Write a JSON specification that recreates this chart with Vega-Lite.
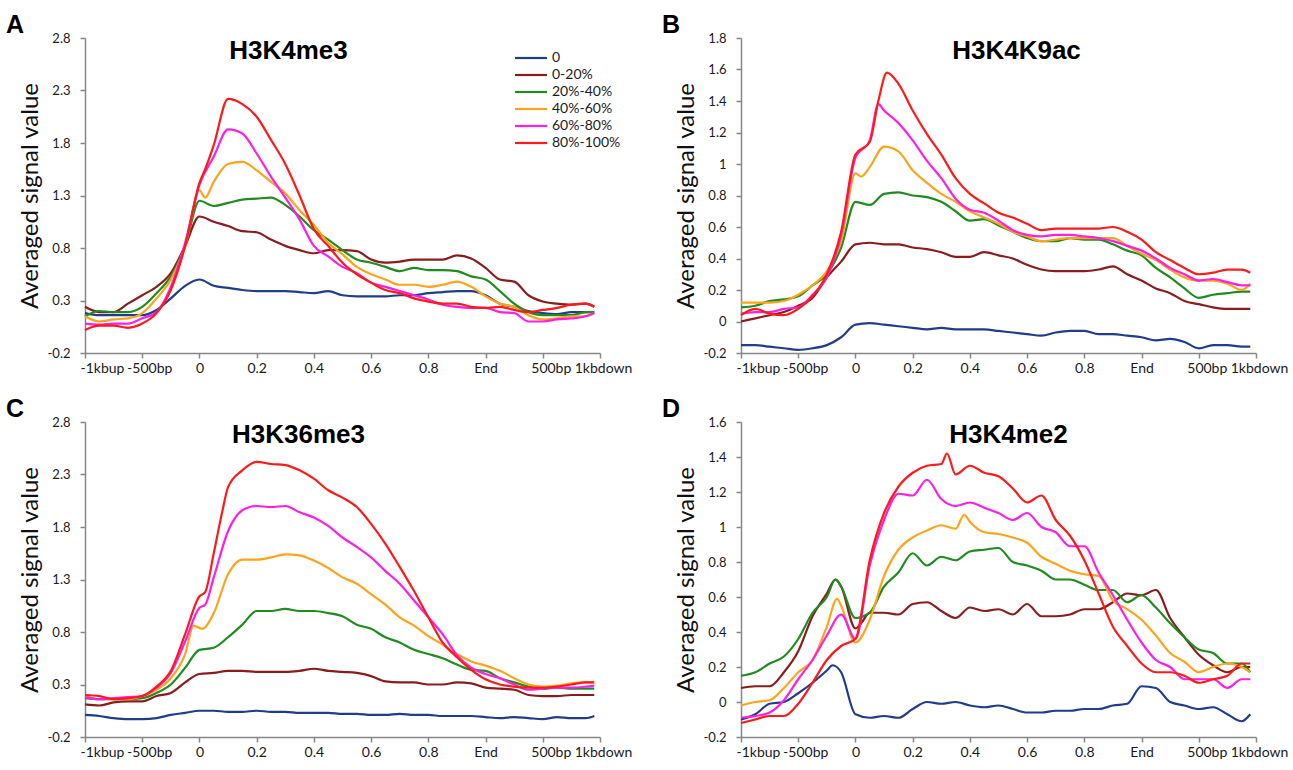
{
"$schema": "https://vega.github.io/schema/vega-lite/v6.json",
"background": "white",
"padding": {"left": 6, "top": 13, "right": 5, "bottom": 5},
"config": {
  "font": "Lato",
  "view": {"stroke": null},
  "title": {"font": "Liberation Sans", "fontWeight": "bold", "color": "#000000", "fontSize": 26},
  "axis": {"grid": false, "domainColor": "#878787", "domainWidth": 1.5, "tickColor": "#878787", "tickWidth": 1.5, "tickSize": 5, "labelFont": "Lato", "labelColor": "#1a1a1a", "titleFont": "Lato", "titleFontWeight": "normal", "titleColor": "#111111", "titleFontSize": 24},
  "axisX": {"labelFontSize": 14, "labelPadding": 3, "labelFlush": false, "labelOverlap": false},
  "axisY": {"labelFontSize": 13, "labelPadding": 10, "titlePadding": 5},
  "line": {"strokeWidth": 2.2, "interpolate": "monotone"}
},
"datasets": {
"A": [
{"s":"0","x":0,"y":0.18},{"s":"0","x":0.25,"y":0.16},{"s":"0","x":0.5,"y":0.16},{"s":"0","x":0.75,"y":0.16},{"s":"0","x":1,"y":0.16},{"s":"0","x":1.25,"y":0.21},{"s":"0","x":1.5,"y":0.32},{"s":"0","x":1.75,"y":0.44},{"s":"0","x":2,"y":0.5},{"s":"0","x":2.25,"y":0.44},{"s":"0","x":2.5,"y":0.42},{"s":"0","x":2.75,"y":0.4},{"s":"0","x":3,"y":0.39},{"s":"0","x":3.25,"y":0.39},{"s":"0","x":3.5,"y":0.39},{"s":"0","x":3.75,"y":0.38},{"s":"0","x":4,"y":0.37},{"s":"0","x":4.25,"y":0.39},{"s":"0","x":4.5,"y":0.35},{"s":"0","x":4.75,"y":0.34},{"s":"0","x":5,"y":0.34},{"s":"0","x":5.25,"y":0.34},{"s":"0","x":5.5,"y":0.35},{"s":"0","x":5.75,"y":0.35},{"s":"0","x":6,"y":0.37},{"s":"0","x":6.25,"y":0.38},{"s":"0","x":6.5,"y":0.39},{"s":"0","x":6.75,"y":0.39},{"s":"0","x":7,"y":0.35},{"s":"0","x":7.25,"y":0.27},{"s":"0","x":7.5,"y":0.24},{"s":"0","x":7.75,"y":0.2},{"s":"0","x":8,"y":0.18},{"s":"0","x":8.25,"y":0.17},{"s":"0","x":8.5,"y":0.19},{"s":"0","x":8.75,"y":0.19},{"s":"0","x":8.9,"y":0.19},
{"s":"0-20%","x":0,"y":0.24},{"s":"0-20%","x":0.25,"y":0.19},{"s":"0-20%","x":0.5,"y":0.19},{"s":"0-20%","x":0.75,"y":0.27},{"s":"0-20%","x":1,"y":0.35},{"s":"0-20%","x":1.25,"y":0.43},{"s":"0-20%","x":1.5,"y":0.56},{"s":"0-20%","x":1.75,"y":0.82},{"s":"0-20%","x":2,"y":1.1},{"s":"0-20%","x":2.25,"y":1.05},{"s":"0-20%","x":2.5,"y":1.01},{"s":"0-20%","x":2.75,"y":0.96},{"s":"0-20%","x":3,"y":0.95},{"s":"0-20%","x":3.25,"y":0.88},{"s":"0-20%","x":3.5,"y":0.82},{"s":"0-20%","x":3.75,"y":0.78},{"s":"0-20%","x":4,"y":0.75},{"s":"0-20%","x":4.25,"y":0.78},{"s":"0-20%","x":4.5,"y":0.78},{"s":"0-20%","x":4.75,"y":0.77},{"s":"0-20%","x":5,"y":0.69},{"s":"0-20%","x":5.25,"y":0.66},{"s":"0-20%","x":5.5,"y":0.67},{"s":"0-20%","x":5.75,"y":0.69},{"s":"0-20%","x":6,"y":0.69},{"s":"0-20%","x":6.25,"y":0.69},{"s":"0-20%","x":6.5,"y":0.73},{"s":"0-20%","x":6.75,"y":0.7},{"s":"0-20%","x":7,"y":0.61},{"s":"0-20%","x":7.25,"y":0.5},{"s":"0-20%","x":7.5,"y":0.48},{"s":"0-20%","x":7.75,"y":0.35},{"s":"0-20%","x":8,"y":0.29},{"s":"0-20%","x":8.25,"y":0.27},{"s":"0-20%","x":8.5,"y":0.26},{"s":"0-20%","x":8.75,"y":0.27},{"s":"0-20%","x":8.9,"y":0.24},
{"s":"20%-40%","x":0,"y":0.15},{"s":"20%-40%","x":0.25,"y":0.2},{"s":"20%-40%","x":0.5,"y":0.19},{"s":"20%-40%","x":0.75,"y":0.19},{"s":"20%-40%","x":1,"y":0.24},{"s":"20%-40%","x":1.25,"y":0.37},{"s":"20%-40%","x":1.5,"y":0.53},{"s":"20%-40%","x":1.75,"y":0.82},{"s":"20%-40%","x":2,"y":1.25},{"s":"20%-40%","x":2.25,"y":1.2},{"s":"20%-40%","x":2.5,"y":1.23},{"s":"20%-40%","x":2.75,"y":1.26},{"s":"20%-40%","x":3,"y":1.27},{"s":"20%-40%","x":3.25,"y":1.28},{"s":"20%-40%","x":3.5,"y":1.21},{"s":"20%-40%","x":3.75,"y":1.1},{"s":"20%-40%","x":4,"y":0.97},{"s":"20%-40%","x":4.25,"y":0.88},{"s":"20%-40%","x":4.5,"y":0.78},{"s":"20%-40%","x":4.75,"y":0.69},{"s":"20%-40%","x":5,"y":0.66},{"s":"20%-40%","x":5.25,"y":0.62},{"s":"20%-40%","x":5.5,"y":0.58},{"s":"20%-40%","x":5.75,"y":0.61},{"s":"20%-40%","x":6,"y":0.59},{"s":"20%-40%","x":6.25,"y":0.59},{"s":"20%-40%","x":6.5,"y":0.58},{"s":"20%-40%","x":6.75,"y":0.53},{"s":"20%-40%","x":7,"y":0.5},{"s":"20%-40%","x":7.25,"y":0.39},{"s":"20%-40%","x":7.5,"y":0.27},{"s":"20%-40%","x":7.75,"y":0.19},{"s":"20%-40%","x":8,"y":0.16},{"s":"20%-40%","x":8.25,"y":0.16},{"s":"20%-40%","x":8.5,"y":0.16},{"s":"20%-40%","x":8.75,"y":0.19},{"s":"20%-40%","x":8.9,"y":0.19},
{"s":"40%-60%","x":0,"y":0.15},{"s":"40%-60%","x":0.25,"y":0.1},{"s":"40%-60%","x":0.5,"y":0.12},{"s":"40%-60%","x":0.75,"y":0.13},{"s":"40%-60%","x":1,"y":0.18},{"s":"40%-60%","x":1.25,"y":0.32},{"s":"40%-60%","x":1.5,"y":0.5},{"s":"40%-60%","x":1.75,"y":0.82},{"s":"40%-60%","x":2,"y":1.35},{"s":"40%-60%","x":2.1,"y":1.28},{"s":"40%-60%","x":2.25,"y":1.43},{"s":"40%-60%","x":2.5,"y":1.6},{"s":"40%-60%","x":2.75,"y":1.62},{"s":"40%-60%","x":3,"y":1.54},{"s":"40%-60%","x":3.25,"y":1.43},{"s":"40%-60%","x":3.5,"y":1.32},{"s":"40%-60%","x":3.75,"y":1.16},{"s":"40%-60%","x":4,"y":1.02},{"s":"40%-60%","x":4.25,"y":0.85},{"s":"40%-60%","x":4.5,"y":0.74},{"s":"40%-60%","x":4.75,"y":0.62},{"s":"40%-60%","x":5,"y":0.55},{"s":"40%-60%","x":5.25,"y":0.5},{"s":"40%-60%","x":5.5,"y":0.45},{"s":"40%-60%","x":5.75,"y":0.45},{"s":"40%-60%","x":6,"y":0.43},{"s":"40%-60%","x":6.25,"y":0.45},{"s":"40%-60%","x":6.5,"y":0.48},{"s":"40%-60%","x":6.75,"y":0.43},{"s":"40%-60%","x":7,"y":0.34},{"s":"40%-60%","x":7.25,"y":0.27},{"s":"40%-60%","x":7.5,"y":0.24},{"s":"40%-60%","x":7.75,"y":0.16},{"s":"40%-60%","x":8,"y":0.12},{"s":"40%-60%","x":8.25,"y":0.13},{"s":"40%-60%","x":8.5,"y":0.15},{"s":"40%-60%","x":8.75,"y":0.15},{"s":"40%-60%","x":8.9,"y":0.18},
{"s":"60%-80%","x":0,"y":0.08},{"s":"60%-80%","x":0.25,"y":0.07},{"s":"60%-80%","x":0.5,"y":0.08},{"s":"60%-80%","x":0.75,"y":0.08},{"s":"60%-80%","x":1,"y":0.13},{"s":"60%-80%","x":1.25,"y":0.19},{"s":"60%-80%","x":1.5,"y":0.43},{"s":"60%-80%","x":1.75,"y":0.85},{"s":"60%-80%","x":2,"y":1.4},{"s":"60%-80%","x":2.25,"y":1.67},{"s":"60%-80%","x":2.5,"y":1.93},{"s":"60%-80%","x":2.75,"y":1.89},{"s":"60%-80%","x":3,"y":1.7},{"s":"60%-80%","x":3.25,"y":1.48},{"s":"60%-80%","x":3.5,"y":1.28},{"s":"60%-80%","x":3.75,"y":1.07},{"s":"60%-80%","x":4,"y":0.82},{"s":"60%-80%","x":4.25,"y":0.72},{"s":"60%-80%","x":4.5,"y":0.62},{"s":"60%-80%","x":4.75,"y":0.56},{"s":"60%-80%","x":5,"y":0.47},{"s":"60%-80%","x":5.25,"y":0.43},{"s":"60%-80%","x":5.5,"y":0.39},{"s":"60%-80%","x":5.75,"y":0.35},{"s":"60%-80%","x":6,"y":0.31},{"s":"60%-80%","x":6.25,"y":0.26},{"s":"60%-80%","x":6.5,"y":0.24},{"s":"60%-80%","x":6.75,"y":0.23},{"s":"60%-80%","x":7,"y":0.23},{"s":"60%-80%","x":7.25,"y":0.19},{"s":"60%-80%","x":7.5,"y":0.18},{"s":"60%-80%","x":7.75,"y":0.1},{"s":"60%-80%","x":8,"y":0.1},{"s":"60%-80%","x":8.25,"y":0.12},{"s":"60%-80%","x":8.5,"y":0.13},{"s":"60%-80%","x":8.75,"y":0.15},{"s":"60%-80%","x":8.9,"y":0.18},
{"s":"80%-100%","x":0,"y":0.02},{"s":"80%-100%","x":0.25,"y":0.06},{"s":"80%-100%","x":0.5,"y":0.06},{"s":"80%-100%","x":0.75,"y":0.04},{"s":"80%-100%","x":1,"y":0.08},{"s":"80%-100%","x":1.25,"y":0.18},{"s":"80%-100%","x":1.5,"y":0.4},{"s":"80%-100%","x":1.75,"y":0.82},{"s":"80%-100%","x":2,"y":1.42},{"s":"80%-100%","x":2.1,"y":1.55},{"s":"80%-100%","x":2.25,"y":1.78},{"s":"80%-100%","x":2.5,"y":2.22},{"s":"80%-100%","x":2.75,"y":2.17},{"s":"80%-100%","x":3,"y":2.05},{"s":"80%-100%","x":3.25,"y":1.83},{"s":"80%-100%","x":3.5,"y":1.6},{"s":"80%-100%","x":3.75,"y":1.3},{"s":"80%-100%","x":4,"y":0.98},{"s":"80%-100%","x":4.25,"y":0.82},{"s":"80%-100%","x":4.5,"y":0.66},{"s":"80%-100%","x":4.75,"y":0.55},{"s":"80%-100%","x":5,"y":0.47},{"s":"80%-100%","x":5.25,"y":0.4},{"s":"80%-100%","x":5.5,"y":0.37},{"s":"80%-100%","x":5.75,"y":0.32},{"s":"80%-100%","x":6,"y":0.29},{"s":"80%-100%","x":6.25,"y":0.27},{"s":"80%-100%","x":6.5,"y":0.27},{"s":"80%-100%","x":6.75,"y":0.24},{"s":"80%-100%","x":7,"y":0.23},{"s":"80%-100%","x":7.25,"y":0.24},{"s":"80%-100%","x":7.5,"y":0.21},{"s":"80%-100%","x":7.75,"y":0.19},{"s":"80%-100%","x":8,"y":0.21},{"s":"80%-100%","x":8.25,"y":0.23},{"s":"80%-100%","x":8.5,"y":0.26},{"s":"80%-100%","x":8.75,"y":0.27},{"s":"80%-100%","x":8.9,"y":0.24}
],
"B": [
{"s":"0","x":0,"y":-0.15},{"s":"0","x":0.25,"y":-0.15},{"s":"0","x":0.5,"y":-0.16},{"s":"0","x":0.75,"y":-0.17},{"s":"0","x":1,"y":-0.18},{"s":"0","x":1.25,"y":-0.17},{"s":"0","x":1.5,"y":-0.15},{"s":"0","x":1.75,"y":-0.1},{"s":"0","x":2,"y":-0.02},{"s":"0","x":2.25,"y":-0.01},{"s":"0","x":2.5,"y":-0.02},{"s":"0","x":2.75,"y":-0.03},{"s":"0","x":3,"y":-0.04},{"s":"0","x":3.25,"y":-0.05},{"s":"0","x":3.5,"y":-0.04},{"s":"0","x":3.75,"y":-0.05},{"s":"0","x":4,"y":-0.05},{"s":"0","x":4.25,"y":-0.05},{"s":"0","x":4.5,"y":-0.06},{"s":"0","x":4.75,"y":-0.07},{"s":"0","x":5,"y":-0.08},{"s":"0","x":5.25,"y":-0.09},{"s":"0","x":5.5,"y":-0.07},{"s":"0","x":5.75,"y":-0.06},{"s":"0","x":6,"y":-0.06},{"s":"0","x":6.25,"y":-0.08},{"s":"0","x":6.5,"y":-0.08},{"s":"0","x":6.75,"y":-0.09},{"s":"0","x":7,"y":-0.1},{"s":"0","x":7.25,"y":-0.12},{"s":"0","x":7.5,"y":-0.11},{"s":"0","x":7.75,"y":-0.13},{"s":"0","x":8,"y":-0.17},{"s":"0","x":8.25,"y":-0.15},{"s":"0","x":8.5,"y":-0.15},{"s":"0","x":8.75,"y":-0.16},{"s":"0","x":8.9,"y":-0.16},
{"s":"0-20%","x":0,"y":0},{"s":"0-20%","x":0.25,"y":0.02},{"s":"0-20%","x":0.5,"y":0.04},{"s":"0-20%","x":0.75,"y":0.06},{"s":"0-20%","x":1,"y":0.1},{"s":"0-20%","x":1.25,"y":0.15},{"s":"0-20%","x":1.5,"y":0.28},{"s":"0-20%","x":1.75,"y":0.38},{"s":"0-20%","x":2,"y":0.49},{"s":"0-20%","x":2.25,"y":0.5},{"s":"0-20%","x":2.5,"y":0.49},{"s":"0-20%","x":2.75,"y":0.49},{"s":"0-20%","x":3,"y":0.47},{"s":"0-20%","x":3.25,"y":0.46},{"s":"0-20%","x":3.5,"y":0.44},{"s":"0-20%","x":3.75,"y":0.41},{"s":"0-20%","x":4,"y":0.41},{"s":"0-20%","x":4.25,"y":0.44},{"s":"0-20%","x":4.5,"y":0.42},{"s":"0-20%","x":4.75,"y":0.4},{"s":"0-20%","x":5,"y":0.36},{"s":"0-20%","x":5.25,"y":0.33},{"s":"0-20%","x":5.5,"y":0.32},{"s":"0-20%","x":5.75,"y":0.32},{"s":"0-20%","x":6,"y":0.32},{"s":"0-20%","x":6.25,"y":0.33},{"s":"0-20%","x":6.5,"y":0.35},{"s":"0-20%","x":6.75,"y":0.3},{"s":"0-20%","x":7,"y":0.26},{"s":"0-20%","x":7.25,"y":0.21},{"s":"0-20%","x":7.5,"y":0.18},{"s":"0-20%","x":7.75,"y":0.13},{"s":"0-20%","x":8,"y":0.11},{"s":"0-20%","x":8.25,"y":0.09},{"s":"0-20%","x":8.5,"y":0.08},{"s":"0-20%","x":8.75,"y":0.08},{"s":"0-20%","x":8.9,"y":0.08},
{"s":"20%-40%","x":0,"y":0.09},{"s":"20%-40%","x":0.25,"y":0.1},{"s":"20%-40%","x":0.5,"y":0.13},{"s":"20%-40%","x":0.75,"y":0.14},{"s":"20%-40%","x":1,"y":0.16},{"s":"20%-40%","x":1.25,"y":0.23},{"s":"20%-40%","x":1.5,"y":0.3},{"s":"20%-40%","x":1.75,"y":0.47},{"s":"20%-40%","x":2,"y":0.76},{"s":"20%-40%","x":2.25,"y":0.74},{"s":"20%-40%","x":2.5,"y":0.81},{"s":"20%-40%","x":2.75,"y":0.82},{"s":"20%-40%","x":3,"y":0.8},{"s":"20%-40%","x":3.25,"y":0.79},{"s":"20%-40%","x":3.5,"y":0.76},{"s":"20%-40%","x":3.75,"y":0.7},{"s":"20%-40%","x":4,"y":0.64},{"s":"20%-40%","x":4.25,"y":0.65},{"s":"20%-40%","x":4.5,"y":0.61},{"s":"20%-40%","x":4.75,"y":0.57},{"s":"20%-40%","x":5,"y":0.53},{"s":"20%-40%","x":5.25,"y":0.51},{"s":"20%-40%","x":5.5,"y":0.51},{"s":"20%-40%","x":5.75,"y":0.53},{"s":"20%-40%","x":6,"y":0.52},{"s":"20%-40%","x":6.25,"y":0.52},{"s":"20%-40%","x":6.5,"y":0.49},{"s":"20%-40%","x":6.75,"y":0.45},{"s":"20%-40%","x":7,"y":0.42},{"s":"20%-40%","x":7.25,"y":0.34},{"s":"20%-40%","x":7.5,"y":0.28},{"s":"20%-40%","x":7.75,"y":0.21},{"s":"20%-40%","x":8,"y":0.15},{"s":"20%-40%","x":8.25,"y":0.17},{"s":"20%-40%","x":8.5,"y":0.18},{"s":"20%-40%","x":8.75,"y":0.19},{"s":"20%-40%","x":8.9,"y":0.19},
{"s":"40%-60%","x":0,"y":0.12},{"s":"40%-60%","x":0.25,"y":0.12},{"s":"40%-60%","x":0.5,"y":0.12},{"s":"40%-60%","x":0.75,"y":0.13},{"s":"40%-60%","x":1,"y":0.17},{"s":"40%-60%","x":1.25,"y":0.23},{"s":"40%-60%","x":1.5,"y":0.32},{"s":"40%-60%","x":1.75,"y":0.51},{"s":"40%-60%","x":2,"y":0.94},{"s":"40%-60%","x":2.1,"y":0.92},{"s":"40%-60%","x":2.25,"y":0.98},{"s":"40%-60%","x":2.5,"y":1.11},{"s":"40%-60%","x":2.75,"y":1.08},{"s":"40%-60%","x":3,"y":0.96},{"s":"40%-60%","x":3.25,"y":0.88},{"s":"40%-60%","x":3.5,"y":0.81},{"s":"40%-60%","x":3.75,"y":0.76},{"s":"40%-60%","x":4,"y":0.7},{"s":"40%-60%","x":4.25,"y":0.66},{"s":"40%-60%","x":4.5,"y":0.62},{"s":"40%-60%","x":4.75,"y":0.57},{"s":"40%-60%","x":5,"y":0.54},{"s":"40%-60%","x":5.25,"y":0.51},{"s":"40%-60%","x":5.5,"y":0.52},{"s":"40%-60%","x":5.75,"y":0.53},{"s":"40%-60%","x":6,"y":0.53},{"s":"40%-60%","x":6.25,"y":0.53},{"s":"40%-60%","x":6.5,"y":0.53},{"s":"40%-60%","x":6.75,"y":0.48},{"s":"40%-60%","x":7,"y":0.43},{"s":"40%-60%","x":7.25,"y":0.39},{"s":"40%-60%","x":7.5,"y":0.33},{"s":"40%-60%","x":7.75,"y":0.28},{"s":"40%-60%","x":8,"y":0.26},{"s":"40%-60%","x":8.25,"y":0.26},{"s":"40%-60%","x":8.5,"y":0.24},{"s":"40%-60%","x":8.75,"y":0.2},{"s":"40%-60%","x":8.9,"y":0.24},
{"s":"60%-80%","x":0,"y":0.05},{"s":"60%-80%","x":0.25,"y":0.06},{"s":"60%-80%","x":0.5,"y":0.06},{"s":"60%-80%","x":0.75,"y":0.08},{"s":"60%-80%","x":1,"y":0.09},{"s":"60%-80%","x":1.25,"y":0.17},{"s":"60%-80%","x":1.5,"y":0.28},{"s":"60%-80%","x":1.75,"y":0.55},{"s":"60%-80%","x":2,"y":1.04},{"s":"60%-80%","x":2.25,"y":1.15},{"s":"60%-80%","x":2.4,"y":1.38},{"s":"60%-80%","x":2.5,"y":1.34},{"s":"60%-80%","x":2.75,"y":1.26},{"s":"60%-80%","x":3,"y":1.15},{"s":"60%-80%","x":3.25,"y":1.02},{"s":"60%-80%","x":3.5,"y":0.91},{"s":"60%-80%","x":3.75,"y":0.78},{"s":"60%-80%","x":4,"y":0.71},{"s":"60%-80%","x":4.25,"y":0.69},{"s":"60%-80%","x":4.5,"y":0.64},{"s":"60%-80%","x":4.75,"y":0.58},{"s":"60%-80%","x":5,"y":0.55},{"s":"60%-80%","x":5.25,"y":0.54},{"s":"60%-80%","x":5.5,"y":0.55},{"s":"60%-80%","x":5.75,"y":0.55},{"s":"60%-80%","x":6,"y":0.54},{"s":"60%-80%","x":6.25,"y":0.53},{"s":"60%-80%","x":6.5,"y":0.51},{"s":"60%-80%","x":6.75,"y":0.48},{"s":"60%-80%","x":7,"y":0.45},{"s":"60%-80%","x":7.25,"y":0.4},{"s":"60%-80%","x":7.5,"y":0.34},{"s":"60%-80%","x":7.75,"y":0.3},{"s":"60%-80%","x":8,"y":0.26},{"s":"60%-80%","x":8.25,"y":0.27},{"s":"60%-80%","x":8.5,"y":0.25},{"s":"60%-80%","x":8.75,"y":0.23},{"s":"60%-80%","x":8.9,"y":0.23},
{"s":"80%-100%","x":0,"y":0.04},{"s":"80%-100%","x":0.25,"y":0.08},{"s":"80%-100%","x":0.5,"y":0.05},{"s":"80%-100%","x":0.75,"y":0.04},{"s":"80%-100%","x":1,"y":0.08},{"s":"80%-100%","x":1.25,"y":0.16},{"s":"80%-100%","x":1.5,"y":0.3},{"s":"80%-100%","x":1.75,"y":0.57},{"s":"80%-100%","x":2,"y":1.06},{"s":"80%-100%","x":2.25,"y":1.14},{"s":"80%-100%","x":2.4,"y":1.4},{"s":"80%-100%","x":2.55,"y":1.58},{"s":"80%-100%","x":2.75,"y":1.51},{"s":"80%-100%","x":3,"y":1.34},{"s":"80%-100%","x":3.25,"y":1.19},{"s":"80%-100%","x":3.5,"y":1.06},{"s":"80%-100%","x":3.75,"y":0.91},{"s":"80%-100%","x":4,"y":0.81},{"s":"80%-100%","x":4.25,"y":0.75},{"s":"80%-100%","x":4.5,"y":0.69},{"s":"80%-100%","x":4.75,"y":0.66},{"s":"80%-100%","x":5,"y":0.62},{"s":"80%-100%","x":5.25,"y":0.58},{"s":"80%-100%","x":5.5,"y":0.59},{"s":"80%-100%","x":5.75,"y":0.59},{"s":"80%-100%","x":6,"y":0.59},{"s":"80%-100%","x":6.25,"y":0.59},{"s":"80%-100%","x":6.5,"y":0.6},{"s":"80%-100%","x":6.75,"y":0.57},{"s":"80%-100%","x":7,"y":0.52},{"s":"80%-100%","x":7.25,"y":0.44},{"s":"80%-100%","x":7.5,"y":0.39},{"s":"80%-100%","x":7.75,"y":0.34},{"s":"80%-100%","x":8,"y":0.3},{"s":"80%-100%","x":8.25,"y":0.31},{"s":"80%-100%","x":8.5,"y":0.33},{"s":"80%-100%","x":8.75,"y":0.33},{"s":"80%-100%","x":8.9,"y":0.31}
],
"C": [
{"s":"0","x":0,"y":0.01},{"s":"0","x":0.25,"y":0},{"s":"0","x":0.5,"y":-0.02},{"s":"0","x":0.75,"y":-0.03},{"s":"0","x":1,"y":-0.03},{"s":"0","x":1.25,"y":-0.02},{"s":"0","x":1.5,"y":0.01},{"s":"0","x":1.75,"y":0.03},{"s":"0","x":2,"y":0.05},{"s":"0","x":2.25,"y":0.05},{"s":"0","x":2.5,"y":0.04},{"s":"0","x":2.75,"y":0.04},{"s":"0","x":3,"y":0.05},{"s":"0","x":3.25,"y":0.04},{"s":"0","x":3.5,"y":0.04},{"s":"0","x":3.75,"y":0.03},{"s":"0","x":4,"y":0.03},{"s":"0","x":4.25,"y":0.03},{"s":"0","x":4.5,"y":0.02},{"s":"0","x":4.75,"y":0.02},{"s":"0","x":5,"y":0.01},{"s":"0","x":5.25,"y":0.01},{"s":"0","x":5.5,"y":0.02},{"s":"0","x":5.75,"y":0.01},{"s":"0","x":6,"y":0.01},{"s":"0","x":6.25,"y":0},{"s":"0","x":6.5,"y":0},{"s":"0","x":6.75,"y":0},{"s":"0","x":7,"y":-0.01},{"s":"0","x":7.25,"y":-0.02},{"s":"0","x":7.5,"y":-0.01},{"s":"0","x":7.75,"y":-0.02},{"s":"0","x":8,"y":-0.03},{"s":"0","x":8.25,"y":-0.01},{"s":"0","x":8.5,"y":-0.02},{"s":"0","x":8.75,"y":-0.02},{"s":"0","x":8.9,"y":0},
{"s":"0-20%","x":0,"y":0.11},{"s":"0-20%","x":0.25,"y":0.1},{"s":"0-20%","x":0.5,"y":0.13},{"s":"0-20%","x":0.75,"y":0.14},{"s":"0-20%","x":1,"y":0.14},{"s":"0-20%","x":1.25,"y":0.19},{"s":"0-20%","x":1.5,"y":0.22},{"s":"0-20%","x":1.75,"y":0.32},{"s":"0-20%","x":2,"y":0.4},{"s":"0-20%","x":2.25,"y":0.41},{"s":"0-20%","x":2.5,"y":0.43},{"s":"0-20%","x":2.75,"y":0.43},{"s":"0-20%","x":3,"y":0.42},{"s":"0-20%","x":3.25,"y":0.42},{"s":"0-20%","x":3.5,"y":0.42},{"s":"0-20%","x":3.75,"y":0.43},{"s":"0-20%","x":4,"y":0.45},{"s":"0-20%","x":4.25,"y":0.43},{"s":"0-20%","x":4.5,"y":0.42},{"s":"0-20%","x":4.75,"y":0.41},{"s":"0-20%","x":5,"y":0.38},{"s":"0-20%","x":5.25,"y":0.33},{"s":"0-20%","x":5.5,"y":0.32},{"s":"0-20%","x":5.75,"y":0.32},{"s":"0-20%","x":6,"y":0.3},{"s":"0-20%","x":6.25,"y":0.3},{"s":"0-20%","x":6.5,"y":0.32},{"s":"0-20%","x":6.75,"y":0.31},{"s":"0-20%","x":7,"y":0.27},{"s":"0-20%","x":7.25,"y":0.26},{"s":"0-20%","x":7.5,"y":0.25},{"s":"0-20%","x":7.75,"y":0.2},{"s":"0-20%","x":8,"y":0.19},{"s":"0-20%","x":8.25,"y":0.19},{"s":"0-20%","x":8.5,"y":0.2},{"s":"0-20%","x":8.75,"y":0.2},{"s":"0-20%","x":8.9,"y":0.2},
{"s":"20%-40%","x":0,"y":0.17},{"s":"20%-40%","x":0.25,"y":0.16},{"s":"20%-40%","x":0.5,"y":0.16},{"s":"20%-40%","x":0.75,"y":0.16},{"s":"20%-40%","x":1,"y":0.17},{"s":"20%-40%","x":1.25,"y":0.22},{"s":"20%-40%","x":1.5,"y":0.3},{"s":"20%-40%","x":1.75,"y":0.46},{"s":"20%-40%","x":2,"y":0.63},{"s":"20%-40%","x":2.25,"y":0.65},{"s":"20%-40%","x":2.5,"y":0.75},{"s":"20%-40%","x":2.75,"y":0.87},{"s":"20%-40%","x":3,"y":1},{"s":"20%-40%","x":3.25,"y":1},{"s":"20%-40%","x":3.5,"y":1.02},{"s":"20%-40%","x":3.75,"y":1},{"s":"20%-40%","x":4,"y":1},{"s":"20%-40%","x":4.25,"y":0.98},{"s":"20%-40%","x":4.5,"y":0.95},{"s":"20%-40%","x":4.75,"y":0.87},{"s":"20%-40%","x":5,"y":0.83},{"s":"20%-40%","x":5.25,"y":0.75},{"s":"20%-40%","x":5.5,"y":0.7},{"s":"20%-40%","x":5.75,"y":0.63},{"s":"20%-40%","x":6,"y":0.59},{"s":"20%-40%","x":6.25,"y":0.55},{"s":"20%-40%","x":6.5,"y":0.49},{"s":"20%-40%","x":6.75,"y":0.44},{"s":"20%-40%","x":7,"y":0.43},{"s":"20%-40%","x":7.25,"y":0.36},{"s":"20%-40%","x":7.5,"y":0.32},{"s":"20%-40%","x":7.75,"y":0.28},{"s":"20%-40%","x":8,"y":0.26},{"s":"20%-40%","x":8.25,"y":0.27},{"s":"20%-40%","x":8.5,"y":0.26},{"s":"20%-40%","x":8.75,"y":0.26},{"s":"20%-40%","x":8.9,"y":0.26},
{"s":"40%-60%","x":0,"y":0.19},{"s":"40%-60%","x":0.25,"y":0.16},{"s":"40%-60%","x":0.5,"y":0.16},{"s":"40%-60%","x":0.75,"y":0.16},{"s":"40%-60%","x":1,"y":0.19},{"s":"40%-60%","x":1.25,"y":0.25},{"s":"40%-60%","x":1.5,"y":0.36},{"s":"40%-60%","x":1.75,"y":0.59},{"s":"40%-60%","x":1.9,"y":0.86},{"s":"40%-60%","x":2.05,"y":0.83},{"s":"40%-60%","x":2.25,"y":0.98},{"s":"40%-60%","x":2.5,"y":1.35},{"s":"40%-60%","x":2.75,"y":1.49},{"s":"40%-60%","x":3,"y":1.49},{"s":"40%-60%","x":3.25,"y":1.51},{"s":"40%-60%","x":3.5,"y":1.54},{"s":"40%-60%","x":3.75,"y":1.53},{"s":"40%-60%","x":4,"y":1.48},{"s":"40%-60%","x":4.25,"y":1.41},{"s":"40%-60%","x":4.5,"y":1.32},{"s":"40%-60%","x":4.75,"y":1.26},{"s":"40%-60%","x":5,"y":1.16},{"s":"40%-60%","x":5.25,"y":1.06},{"s":"40%-60%","x":5.5,"y":0.94},{"s":"40%-60%","x":5.75,"y":0.86},{"s":"40%-60%","x":6,"y":0.76},{"s":"40%-60%","x":6.25,"y":0.68},{"s":"40%-60%","x":6.5,"y":0.59},{"s":"40%-60%","x":6.75,"y":0.52},{"s":"40%-60%","x":7,"y":0.48},{"s":"40%-60%","x":7.25,"y":0.43},{"s":"40%-60%","x":7.5,"y":0.36},{"s":"40%-60%","x":7.75,"y":0.3},{"s":"40%-60%","x":8,"y":0.28},{"s":"40%-60%","x":8.25,"y":0.29},{"s":"40%-60%","x":8.5,"y":0.31},{"s":"40%-60%","x":8.75,"y":0.32},{"s":"40%-60%","x":8.9,"y":0.32},
{"s":"60%-80%","x":0,"y":0.18},{"s":"60%-80%","x":0.25,"y":0.16},{"s":"60%-80%","x":0.5,"y":0.17},{"s":"60%-80%","x":0.75,"y":0.18},{"s":"60%-80%","x":1,"y":0.19},{"s":"60%-80%","x":1.25,"y":0.27},{"s":"60%-80%","x":1.5,"y":0.41},{"s":"60%-80%","x":1.75,"y":0.71},{"s":"60%-80%","x":2,"y":1.03},{"s":"60%-80%","x":2.1,"y":1.06},{"s":"60%-80%","x":2.25,"y":1.32},{"s":"60%-80%","x":2.5,"y":1.76},{"s":"60%-80%","x":2.75,"y":1.96},{"s":"60%-80%","x":3,"y":2},{"s":"60%-80%","x":3.25,"y":1.99},{"s":"60%-80%","x":3.5,"y":2},{"s":"60%-80%","x":3.75,"y":1.94},{"s":"60%-80%","x":4,"y":1.89},{"s":"60%-80%","x":4.25,"y":1.81},{"s":"60%-80%","x":4.5,"y":1.7},{"s":"60%-80%","x":4.75,"y":1.61},{"s":"60%-80%","x":5,"y":1.51},{"s":"60%-80%","x":5.25,"y":1.38},{"s":"60%-80%","x":5.5,"y":1.26},{"s":"60%-80%","x":5.75,"y":1.1},{"s":"60%-80%","x":6,"y":0.94},{"s":"60%-80%","x":6.25,"y":0.78},{"s":"60%-80%","x":6.5,"y":0.58},{"s":"60%-80%","x":6.75,"y":0.46},{"s":"60%-80%","x":7,"y":0.4},{"s":"60%-80%","x":7.25,"y":0.36},{"s":"60%-80%","x":7.5,"y":0.3},{"s":"60%-80%","x":7.75,"y":0.25},{"s":"60%-80%","x":8,"y":0.26},{"s":"60%-80%","x":8.25,"y":0.27},{"s":"60%-80%","x":8.5,"y":0.27},{"s":"60%-80%","x":8.75,"y":0.28},{"s":"60%-80%","x":8.9,"y":0.29},
{"s":"80%-100%","x":0,"y":0.2},{"s":"80%-100%","x":0.25,"y":0.19},{"s":"80%-100%","x":0.5,"y":0.16},{"s":"80%-100%","x":0.75,"y":0.17},{"s":"80%-100%","x":1,"y":0.19},{"s":"80%-100%","x":1.25,"y":0.28},{"s":"80%-100%","x":1.5,"y":0.43},{"s":"80%-100%","x":1.75,"y":0.78},{"s":"80%-100%","x":2,"y":1.14},{"s":"80%-100%","x":2.1,"y":1.18},{"s":"80%-100%","x":2.25,"y":1.55},{"s":"80%-100%","x":2.4,"y":1.95},{"s":"80%-100%","x":2.5,"y":2.18},{"s":"80%-100%","x":2.75,"y":2.34},{"s":"80%-100%","x":3,"y":2.42},{"s":"80%-100%","x":3.25,"y":2.4},{"s":"80%-100%","x":3.5,"y":2.39},{"s":"80%-100%","x":3.75,"y":2.34},{"s":"80%-100%","x":4,"y":2.26},{"s":"80%-100%","x":4.25,"y":2.15},{"s":"80%-100%","x":4.5,"y":2.08},{"s":"80%-100%","x":4.75,"y":1.99},{"s":"80%-100%","x":5,"y":1.83},{"s":"80%-100%","x":5.25,"y":1.64},{"s":"80%-100%","x":5.5,"y":1.42},{"s":"80%-100%","x":5.75,"y":1.19},{"s":"80%-100%","x":6,"y":0.94},{"s":"80%-100%","x":6.25,"y":0.7},{"s":"80%-100%","x":6.5,"y":0.56},{"s":"80%-100%","x":6.75,"y":0.44},{"s":"80%-100%","x":7,"y":0.35},{"s":"80%-100%","x":7.25,"y":0.3},{"s":"80%-100%","x":7.5,"y":0.28},{"s":"80%-100%","x":7.75,"y":0.27},{"s":"80%-100%","x":8,"y":0.27},{"s":"80%-100%","x":8.25,"y":0.28},{"s":"80%-100%","x":8.5,"y":0.3},{"s":"80%-100%","x":8.75,"y":0.32},{"s":"80%-100%","x":8.9,"y":0.32}
],
"D": [
{"s":"0","x":0,"y":-0.1},{"s":"0","x":0.25,"y":-0.07},{"s":"0","x":0.5,"y":-0.01},{"s":"0","x":0.75,"y":0},{"s":"0","x":1,"y":0.05},{"s":"0","x":1.25,"y":0.11},{"s":"0","x":1.5,"y":0.18},{"s":"0","x":1.6,"y":0.21},{"s":"0","x":1.75,"y":0.17},{"s":"0","x":2,"y":-0.07},{"s":"0","x":2.25,"y":-0.09},{"s":"0","x":2.5,"y":-0.08},{"s":"0","x":2.75,"y":-0.09},{"s":"0","x":3,"y":-0.04},{"s":"0","x":3.25,"y":0},{"s":"0","x":3.5,"y":-0.01},{"s":"0","x":3.75,"y":0},{"s":"0","x":4,"y":-0.02},{"s":"0","x":4.25,"y":-0.03},{"s":"0","x":4.5,"y":-0.02},{"s":"0","x":4.75,"y":-0.04},{"s":"0","x":5,"y":-0.06},{"s":"0","x":5.25,"y":-0.06},{"s":"0","x":5.5,"y":-0.05},{"s":"0","x":5.75,"y":-0.05},{"s":"0","x":6,"y":-0.04},{"s":"0","x":6.25,"y":-0.04},{"s":"0","x":6.5,"y":-0.02},{"s":"0","x":6.75,"y":-0.01},{"s":"0","x":7,"y":0.09},{"s":"0","x":7.25,"y":0.08},{"s":"0","x":7.5,"y":0},{"s":"0","x":7.75,"y":-0.02},{"s":"0","x":8,"y":-0.04},{"s":"0","x":8.25,"y":-0.03},{"s":"0","x":8.5,"y":-0.07},{"s":"0","x":8.75,"y":-0.11},{"s":"0","x":8.9,"y":-0.07},
{"s":"0-20%","x":0,"y":0.08},{"s":"0-20%","x":0.25,"y":0.09},{"s":"0-20%","x":0.5,"y":0.09},{"s":"0-20%","x":0.75,"y":0.17},{"s":"0-20%","x":1,"y":0.29},{"s":"0-20%","x":1.25,"y":0.49},{"s":"0-20%","x":1.5,"y":0.62},{"s":"0-20%","x":1.65,"y":0.7},{"s":"0-20%","x":1.75,"y":0.66},{"s":"0-20%","x":2,"y":0.42},{"s":"0-20%","x":2.1,"y":0.45},{"s":"0-20%","x":2.25,"y":0.51},{"s":"0-20%","x":2.5,"y":0.51},{"s":"0-20%","x":2.75,"y":0.5},{"s":"0-20%","x":3,"y":0.56},{"s":"0-20%","x":3.25,"y":0.57},{"s":"0-20%","x":3.5,"y":0.52},{"s":"0-20%","x":3.75,"y":0.48},{"s":"0-20%","x":4,"y":0.54},{"s":"0-20%","x":4.25,"y":0.52},{"s":"0-20%","x":4.5,"y":0.53},{"s":"0-20%","x":4.75,"y":0.5},{"s":"0-20%","x":5,"y":0.56},{"s":"0-20%","x":5.25,"y":0.49},{"s":"0-20%","x":5.5,"y":0.49},{"s":"0-20%","x":5.75,"y":0.5},{"s":"0-20%","x":6,"y":0.53},{"s":"0-20%","x":6.25,"y":0.53},{"s":"0-20%","x":6.5,"y":0.57},{"s":"0-20%","x":6.75,"y":0.62},{"s":"0-20%","x":7,"y":0.61},{"s":"0-20%","x":7.25,"y":0.64},{"s":"0-20%","x":7.5,"y":0.48},{"s":"0-20%","x":7.75,"y":0.37},{"s":"0-20%","x":8,"y":0.27},{"s":"0-20%","x":8.25,"y":0.21},{"s":"0-20%","x":8.5,"y":0.17},{"s":"0-20%","x":8.75,"y":0.2},{"s":"0-20%","x":8.9,"y":0.2},
{"s":"20%-40%","x":0,"y":0.15},{"s":"20%-40%","x":0.25,"y":0.17},{"s":"20%-40%","x":0.5,"y":0.22},{"s":"20%-40%","x":0.75,"y":0.26},{"s":"20%-40%","x":1,"y":0.36},{"s":"20%-40%","x":1.25,"y":0.51},{"s":"20%-40%","x":1.5,"y":0.6},{"s":"20%-40%","x":1.65,"y":0.7},{"s":"20%-40%","x":1.75,"y":0.66},{"s":"20%-40%","x":2,"y":0.48},{"s":"20%-40%","x":2.25,"y":0.51},{"s":"20%-40%","x":2.5,"y":0.66},{"s":"20%-40%","x":2.75,"y":0.74},{"s":"20%-40%","x":3,"y":0.85},{"s":"20%-40%","x":3.25,"y":0.78},{"s":"20%-40%","x":3.5,"y":0.83},{"s":"20%-40%","x":3.75,"y":0.81},{"s":"20%-40%","x":4,"y":0.86},{"s":"20%-40%","x":4.25,"y":0.87},{"s":"20%-40%","x":4.5,"y":0.88},{"s":"20%-40%","x":4.75,"y":0.8},{"s":"20%-40%","x":5,"y":0.78},{"s":"20%-40%","x":5.25,"y":0.75},{"s":"20%-40%","x":5.5,"y":0.7},{"s":"20%-40%","x":5.75,"y":0.7},{"s":"20%-40%","x":6,"y":0.67},{"s":"20%-40%","x":6.25,"y":0.64},{"s":"20%-40%","x":6.5,"y":0.64},{"s":"20%-40%","x":6.75,"y":0.57},{"s":"20%-40%","x":7,"y":0.61},{"s":"20%-40%","x":7.25,"y":0.54},{"s":"20%-40%","x":7.5,"y":0.45},{"s":"20%-40%","x":7.75,"y":0.37},{"s":"20%-40%","x":8,"y":0.3},{"s":"20%-40%","x":8.25,"y":0.28},{"s":"20%-40%","x":8.5,"y":0.22},{"s":"20%-40%","x":8.75,"y":0.22},{"s":"20%-40%","x":8.9,"y":0.17},
{"s":"40%-60%","x":0,"y":-0.02},{"s":"40%-60%","x":0.25,"y":0},{"s":"40%-60%","x":0.5,"y":0.01},{"s":"40%-60%","x":0.75,"y":0.08},{"s":"40%-60%","x":1,"y":0.17},{"s":"40%-60%","x":1.25,"y":0.24},{"s":"40%-60%","x":1.5,"y":0.43},{"s":"40%-60%","x":1.68,"y":0.59},{"s":"40%-60%","x":1.75,"y":0.55},{"s":"40%-60%","x":2,"y":0.34},{"s":"40%-60%","x":2.25,"y":0.47},{"s":"40%-60%","x":2.5,"y":0.72},{"s":"40%-60%","x":2.75,"y":0.87},{"s":"40%-60%","x":3,"y":0.94},{"s":"40%-60%","x":3.25,"y":0.98},{"s":"40%-60%","x":3.5,"y":1.01},{"s":"40%-60%","x":3.75,"y":0.99},{"s":"40%-60%","x":3.9,"y":1.07},{"s":"40%-60%","x":4,"y":1.03},{"s":"40%-60%","x":4.25,"y":0.97},{"s":"40%-60%","x":4.5,"y":0.96},{"s":"40%-60%","x":4.75,"y":0.94},{"s":"40%-60%","x":5,"y":0.91},{"s":"40%-60%","x":5.25,"y":0.83},{"s":"40%-60%","x":5.5,"y":0.79},{"s":"40%-60%","x":5.75,"y":0.75},{"s":"40%-60%","x":6,"y":0.73},{"s":"40%-60%","x":6.25,"y":0.72},{"s":"40%-60%","x":6.5,"y":0.58},{"s":"40%-60%","x":6.75,"y":0.53},{"s":"40%-60%","x":7,"y":0.47},{"s":"40%-60%","x":7.25,"y":0.38},{"s":"40%-60%","x":7.5,"y":0.28},{"s":"40%-60%","x":7.75,"y":0.23},{"s":"40%-60%","x":8,"y":0.17},{"s":"40%-60%","x":8.25,"y":0.2},{"s":"40%-60%","x":8.5,"y":0.22},{"s":"40%-60%","x":8.75,"y":0.2},{"s":"40%-60%","x":8.9,"y":0.17},
{"s":"60%-80%","x":0,"y":-0.09},{"s":"60%-80%","x":0.25,"y":-0.08},{"s":"60%-80%","x":0.5,"y":-0.06},{"s":"60%-80%","x":0.75,"y":0.01},{"s":"60%-80%","x":1,"y":0.13},{"s":"60%-80%","x":1.25,"y":0.24},{"s":"60%-80%","x":1.5,"y":0.38},{"s":"60%-80%","x":1.75,"y":0.5},{"s":"60%-80%","x":2,"y":0.36},{"s":"60%-80%","x":2.25,"y":0.78},{"s":"60%-80%","x":2.5,"y":1.04},{"s":"60%-80%","x":2.75,"y":1.19},{"s":"60%-80%","x":3,"y":1.18},{"s":"60%-80%","x":3.25,"y":1.27},{"s":"60%-80%","x":3.5,"y":1.16},{"s":"60%-80%","x":3.75,"y":1.12},{"s":"60%-80%","x":4,"y":1.14},{"s":"60%-80%","x":4.25,"y":1.11},{"s":"60%-80%","x":4.5,"y":1.08},{"s":"60%-80%","x":4.75,"y":1.04},{"s":"60%-80%","x":5,"y":1.08},{"s":"60%-80%","x":5.25,"y":1},{"s":"60%-80%","x":5.5,"y":0.97},{"s":"60%-80%","x":5.75,"y":0.89},{"s":"60%-80%","x":6,"y":0.89},{"s":"60%-80%","x":6.25,"y":0.74},{"s":"60%-80%","x":6.5,"y":0.61},{"s":"60%-80%","x":6.75,"y":0.47},{"s":"60%-80%","x":7,"y":0.34},{"s":"60%-80%","x":7.25,"y":0.24},{"s":"60%-80%","x":7.5,"y":0.2},{"s":"60%-80%","x":7.75,"y":0.13},{"s":"60%-80%","x":8,"y":0.13},{"s":"60%-80%","x":8.25,"y":0.13},{"s":"60%-80%","x":8.5,"y":0.08},{"s":"60%-80%","x":8.75,"y":0.13},{"s":"60%-80%","x":8.9,"y":0.13},
{"s":"80%-100%","x":0,"y":-0.12},{"s":"80%-100%","x":0.25,"y":-0.1},{"s":"80%-100%","x":0.5,"y":-0.08},{"s":"80%-100%","x":0.75,"y":-0.08},{"s":"80%-100%","x":1,"y":-0.01},{"s":"80%-100%","x":1.25,"y":0.11},{"s":"80%-100%","x":1.5,"y":0.24},{"s":"80%-100%","x":1.75,"y":0.32},{"s":"80%-100%","x":2,"y":0.36},{"s":"80%-100%","x":2.25,"y":0.81},{"s":"80%-100%","x":2.5,"y":1.08},{"s":"80%-100%","x":2.75,"y":1.23},{"s":"80%-100%","x":3,"y":1.31},{"s":"80%-100%","x":3.25,"y":1.35},{"s":"80%-100%","x":3.5,"y":1.36},{"s":"80%-100%","x":3.6,"y":1.42},{"s":"80%-100%","x":3.75,"y":1.3},{"s":"80%-100%","x":4,"y":1.35},{"s":"80%-100%","x":4.25,"y":1.31},{"s":"80%-100%","x":4.5,"y":1.29},{"s":"80%-100%","x":4.75,"y":1.22},{"s":"80%-100%","x":5,"y":1.14},{"s":"80%-100%","x":5.25,"y":1.18},{"s":"80%-100%","x":5.5,"y":1.04},{"s":"80%-100%","x":5.75,"y":0.95},{"s":"80%-100%","x":6,"y":0.81},{"s":"80%-100%","x":6.25,"y":0.62},{"s":"80%-100%","x":6.5,"y":0.43},{"s":"80%-100%","x":6.75,"y":0.32},{"s":"80%-100%","x":7,"y":0.22},{"s":"80%-100%","x":7.25,"y":0.17},{"s":"80%-100%","x":7.5,"y":0.17},{"s":"80%-100%","x":7.75,"y":0.15},{"s":"80%-100%","x":8,"y":0.11},{"s":"80%-100%","x":8.25,"y":0.13},{"s":"80%-100%","x":8.5,"y":0.15},{"s":"80%-100%","x":8.75,"y":0.22},{"s":"80%-100%","x":8.9,"y":0.22}
]
},
"resolve": {"scale": {"color": "independent"}, "legend": {"color": "independent"}},
"spacing": 22,
"vconcat": [
{
"spacing": 30,
"resolve": {"scale": {"color": "independent"}, "legend": {"color": "independent"}},
"hconcat": [
{
"title": {"text": "A", "anchor": "start", "fontSize": 25, "offset": -6, "dx": -12},
"resolve": {"scale": {"color": "independent"}, "legend": {"color": "independent"}},
"vconcat": [{
"width": 515, "height": 315,
"title": {"text": "H3K4me3", "fontSize": 26, "offset": -32, "dx": -54},
"data": {"name": "A"},
"mark": {"type": "line"},
"encoding": {
"x": {"field": "x", "type": "quantitative", "scale": {"domain": [0, 9], "nice": false}, "axis": {"title": null, "values": [0,1,2,3,4,5,6,7,8,9], "labelExpr": "['-1kbup','-500bp','0','0.2','0.4','0.6','0.8','End','500bp','1kbdown'][round(datum.value)]", "labelAlign": {"condition": {"test": "datum.value == 0", "value": "left"}, "value": "center"}, "labelOffset": {"condition": [{"test": "datum.value == 0", "value": -5}, {"test": "datum.value == 1", "value": 7}, {"test": "datum.value == 8", "value": 8}, {"test": "datum.value == 9", "value": 3}], "value": 0}}},
"y": {"field": "y", "type": "quantitative", "scale": {"domain": [-0.2, 2.8], "nice": false, "zero": false}, "axis": {"title": "Averaged signal value", "values": [-0.2,0.3,0.8,1.3,1.8,2.3,2.8], "labelExpr": "datum.value < 0 ? '-' + format(-datum.value, '.1~f') : format(datum.value, '.1~f')"}},
"color": {"field": "s", "type": "nominal", "scale": {"domain": ["0","0-20%","20%-40%","40%-60%","60%-80%","80%-100%"], "range": ["#1f3d8c","#8b1c1c","#1e8c1e","#ffa41a","#ff1ee6","#ff1a1a"]}, "legend": {"orient": "none", "legendX": 447, "legendY": 13, "title": null, "symbolType": "M-6,0L2,0", "symbolSize": 64, "symbolStrokeWidth": 3, "labelOffset": 6, "labelFontSize": 14, "labelFont": "Lato", "labelColor": "#1a1a1a", "rowPadding": 3}}
}
}]
},
{
"title": {"text": "B", "anchor": "start", "fontSize": 25, "offset": -6, "dx": -12},
"resolve": {"scale": {"color": "independent"}, "legend": {"color": "independent"}},
"vconcat": [{
"width": 515, "height": 315,
"title": {"text": "H3K4K9ac", "fontSize": 26, "offset": -32, "dx": 18},
"data": {"name": "B"},
"mark": {"type": "line"},
"encoding": {
"x": {"field": "x", "type": "quantitative", "scale": {"domain": [0, 9], "nice": false}, "axis": {"title": null, "values": [0,1,2,3,4,5,6,7,8,9], "labelExpr": "['-1kbup','-500bp','0','0.2','0.4','0.6','0.8','End','500bp','1kbdown'][round(datum.value)]", "labelAlign": {"condition": {"test": "datum.value == 0", "value": "left"}, "value": "center"}, "labelOffset": {"condition": [{"test": "datum.value == 0", "value": -5}, {"test": "datum.value == 1", "value": 7}, {"test": "datum.value == 8", "value": 8}, {"test": "datum.value == 9", "value": 3}], "value": 0}}},
"y": {"field": "y", "type": "quantitative", "scale": {"domain": [-0.2, 1.8], "nice": false, "zero": false}, "axis": {"title": "Averaged signal value", "values": [-0.2,0,0.2,0.4,0.6,0.8,1,1.2,1.4,1.6,1.8], "labelExpr": "datum.value < 0 ? '-' + format(-datum.value, '.1~f') : format(datum.value, '.1~f')"}},
"color": {"field": "s", "type": "nominal", "scale": {"domain": ["0","0-20%","20%-40%","40%-60%","60%-80%","80%-100%"], "range": ["#1f3d8c","#8b1c1c","#1e8c1e","#ffa41a","#ff1ee6","#ff1a1a"]}, "legend": null}
}
}]
}
]
},
{
"spacing": 30,
"resolve": {"scale": {"color": "independent"}, "legend": {"color": "independent"}},
"hconcat": [
{
"title": {"text": "C", "anchor": "start", "fontSize": 25, "offset": -6, "dx": -12},
"resolve": {"scale": {"color": "independent"}, "legend": {"color": "independent"}},
"vconcat": [{
"width": 515, "height": 315,
"title": {"text": "H3K36me3", "fontSize": 26, "offset": -32, "dx": -44},
"data": {"name": "C"},
"mark": {"type": "line"},
"encoding": {
"x": {"field": "x", "type": "quantitative", "scale": {"domain": [0, 9], "nice": false}, "axis": {"title": null, "values": [0,1,2,3,4,5,6,7,8,9], "labelExpr": "['-1kbup','-500bp','0','0.2','0.4','0.6','0.8','End','500bp','1kbdown'][round(datum.value)]", "labelAlign": {"condition": {"test": "datum.value == 0", "value": "left"}, "value": "center"}, "labelOffset": {"condition": [{"test": "datum.value == 0", "value": -5}, {"test": "datum.value == 1", "value": 7}, {"test": "datum.value == 8", "value": 8}, {"test": "datum.value == 9", "value": 3}], "value": 0}}},
"y": {"field": "y", "type": "quantitative", "scale": {"domain": [-0.2, 2.8], "nice": false, "zero": false}, "axis": {"title": "Averaged signal value", "values": [-0.2,0.3,0.8,1.3,1.8,2.3,2.8], "labelExpr": "datum.value < 0 ? '-' + format(-datum.value, '.1~f') : format(datum.value, '.1~f')"}},
"color": {"field": "s", "type": "nominal", "scale": {"domain": ["0","0-20%","20%-40%","40%-60%","60%-80%","80%-100%"], "range": ["#1f3d8c","#8b1c1c","#1e8c1e","#ffa41a","#ff1ee6","#ff1a1a"]}, "legend": null}
}
}]
},
{
"title": {"text": "D", "anchor": "start", "fontSize": 25, "offset": -6, "dx": -12},
"resolve": {"scale": {"color": "independent"}, "legend": {"color": "independent"}},
"vconcat": [{
"width": 515, "height": 315,
"title": {"text": "H3K4me2", "fontSize": 26, "offset": -32, "dx": 10},
"data": {"name": "D"},
"mark": {"type": "line"},
"encoding": {
"x": {"field": "x", "type": "quantitative", "scale": {"domain": [0, 9], "nice": false}, "axis": {"title": null, "values": [0,1,2,3,4,5,6,7,8,9], "labelExpr": "['-1kbup','-500bp','0','0.2','0.4','0.6','0.8','End','500bp','1kbdown'][round(datum.value)]", "labelAlign": {"condition": {"test": "datum.value == 0", "value": "left"}, "value": "center"}, "labelOffset": {"condition": [{"test": "datum.value == 0", "value": -5}, {"test": "datum.value == 1", "value": 7}, {"test": "datum.value == 8", "value": 8}, {"test": "datum.value == 9", "value": 3}], "value": 0}}},
"y": {"field": "y", "type": "quantitative", "scale": {"domain": [-0.2, 1.6], "nice": false, "zero": false}, "axis": {"title": "Averaged signal value", "values": [-0.2,0,0.2,0.4,0.6,0.8,1,1.2,1.4,1.6], "labelExpr": "datum.value < 0 ? '-' + format(-datum.value, '.1~f') : format(datum.value, '.1~f')"}},
"color": {"field": "s", "type": "nominal", "scale": {"domain": ["0","0-20%","20%-40%","40%-60%","60%-80%","80%-100%"], "range": ["#1f3d8c","#8b1c1c","#1e8c1e","#ffa41a","#ff1ee6","#ff1a1a"]}, "legend": null}
}
}]
}
]
}
]
}
